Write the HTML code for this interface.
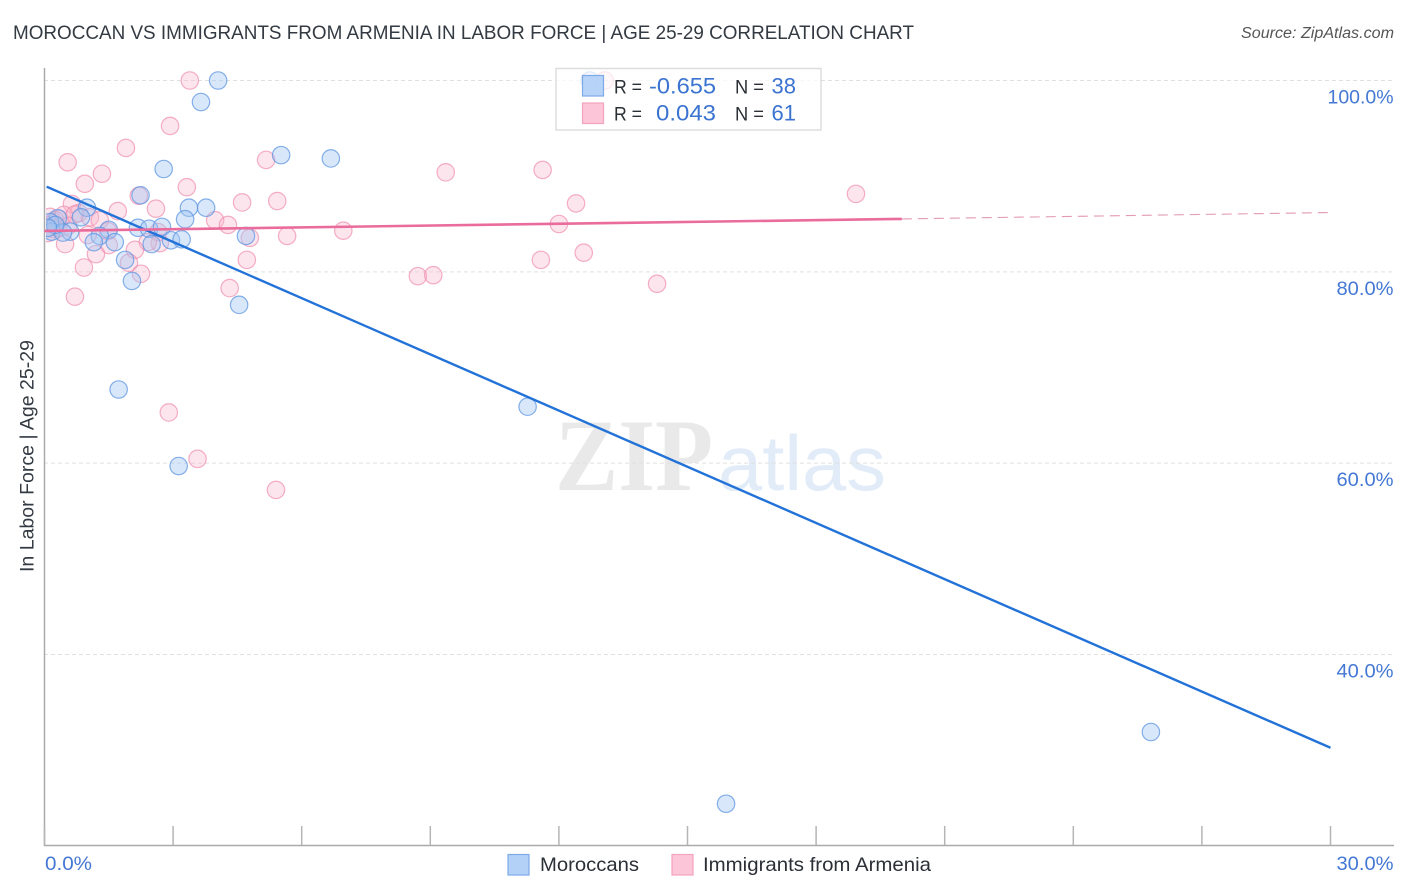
<!DOCTYPE html>
<html lang="en">
<head>
<meta charset="utf-8">
<title>Moroccan vs Immigrants from Armenia in Labor Force | Age 25-29 Correlation Chart</title>
<style>
html,body{margin:0;padding:0;background:#fff;width:1406px;height:892px;overflow:hidden}
svg{display:block;font-family:"Liberation Sans",sans-serif}
</style>
</head>
<body>
<svg id="chart" width="1406" height="892" viewBox="0 0 1406 892" xmlns="http://www.w3.org/2000/svg">
  <defs>
    <clipPath id="plot-clip"><rect x="46" y="0" width="1360" height="892"/></clipPath>
  </defs>
  <rect x="0" y="0" width="1406" height="892" fill="#ffffff"/>
  <text x="13" y="39" font-size="19.5" fill="#333a42" textLength="901" lengthAdjust="spacingAndGlyphs">MOROCCAN VS IMMIGRANTS FROM ARMENIA IN LABOR FORCE | AGE 25-29 CORRELATION CHART</text>
  <text x="1394" y="38" font-size="15.5" font-style="italic" fill="#555" text-anchor="end" textLength="153" lengthAdjust="spacingAndGlyphs">Source: ZipAtlas.com</text>

  <g>
    <text x="555" y="490" font-family="'Liberation Serif',serif" font-size="103" font-weight="bold" fill="#e9e9e9" textLength="158" lengthAdjust="spacingAndGlyphs">ZIP</text>
    <text x="718" y="490" font-family="'Liberation Sans',sans-serif" font-size="78" fill="#e2ecf9" textLength="168" lengthAdjust="spacingAndGlyphs">atlas</text>
  </g>

  <g id="grid"></g>
  <g id="axes"></g>
  <g id="pink-points" clip-path="url(#plot-clip)"></g>
  <g id="blue-points" clip-path="url(#plot-clip)"></g>
  <g id="trends"></g>

  <text transform="translate(33.5,456) rotate(-90)" font-size="19" fill="#333a42" text-anchor="middle" textLength="232" lengthAdjust="spacingAndGlyphs">In Labor Force | Age 25-29</text>

  <g>
    <rect x="556" y="68.5" width="265" height="61.5" fill="#ffffff" fill-opacity="0.72" stroke="#dddddd" stroke-width="1.5"/>
    <rect x="582.5" y="75.5" width="21" height="20.5" fill="#b3d1f7" fill-opacity="0.95" stroke="#7dabe8" stroke-width="1.2"/>
    <rect x="582.5" y="103" width="21" height="20.5" fill="#fcc5d8" stroke="#f3a3bf" stroke-width="1.2"/>
    <text x="614" y="93.5" font-size="19.5" fill="#2b2f36" textLength="28" lengthAdjust="spacingAndGlyphs">R =</text>
    <text x="716" y="93.5" font-size="22" fill="#3b73d1" text-anchor="end" textLength="67" lengthAdjust="spacingAndGlyphs">-0.655</text>
    <text x="735" y="93.5" font-size="19.5" fill="#2b2f36" textLength="29" lengthAdjust="spacingAndGlyphs">N =</text>
    <text x="796" y="93.5" font-size="22" fill="#3b73d1" text-anchor="end">38</text>
    <text x="614" y="120.5" font-size="19.5" fill="#2b2f36" textLength="28" lengthAdjust="spacingAndGlyphs">R =</text>
    <text x="716" y="120.5" font-size="22" fill="#3b73d1" text-anchor="end" textLength="60" lengthAdjust="spacingAndGlyphs">0.043</text>
    <text x="735" y="120.5" font-size="19.5" fill="#2b2f36" textLength="29" lengthAdjust="spacingAndGlyphs">N =</text>
    <text x="796" y="120.5" font-size="22" fill="#3b73d1" text-anchor="end">61</text>
  </g>

  <g>
    <rect x="508" y="854.5" width="21" height="20.5" fill="#b3d1f7" stroke="#7dabe8" stroke-width="1.2"/>
    <text x="540" y="871" font-size="19.5" fill="#2b2f36" textLength="99" lengthAdjust="spacingAndGlyphs">Moroccans</text>
    <rect x="672" y="854.5" width="21" height="20.5" fill="#fcc5d8" stroke="#f3a3bf" stroke-width="1.2"/>
    <text x="703" y="871" font-size="19.5" fill="#2b2f36" textLength="228" lengthAdjust="spacingAndGlyphs">Immigrants from Armenia</text>
  </g>
</svg>
<script>
const moroccanX = [4.05,3.65,5.52,6.68,2.78,2.24,3.37,3.77,0.99,3.28,0.85,0.31,0.13,2.18,2.44,2.74,1.5,0.6,0.17,0.43,1.29,4.7,1.15,1.64,2.5,2.95,3.2,1.88,2.04,4.54,1.73,11.27,3.13,25.81,15.9,12.72,0.25,0.08];
const moroccanY = [100,97.75,92.2,91.85,90.75,88,86.7,86.7,86.7,85.5,85.7,85.6,85.2,84.6,84.5,84.7,84.4,84.2,84.2,84.1,83.75,83.75,83.1,83.1,82.9,83.3,83.4,81.25,79.05,76.55,67.7,65.9,59.7,31.9,24.4,100,84.9,84.6];
const armeniaX = [3.39,13.07,2.93,1.9,0.54,5.17,1.34,0.94,3.32,9.36,11.62,18.93,2.2,4.61,5.43,12.4,0.64,2.6,1.71,0.8,1.06,1.29,3.98,4.28,12,6.97,5.66,4.79,1.48,1.01,2.65,2.69,2.41,0.48,1.5,2.11,1.2,4.72,1.97,11.58,12.58,0.92,2.25,8.71,9.07,4.32,14.29,0.71,2.9,3.57,5.4,0.13,0.25,0.36,0.03,0.17,0.08,0.31,0.45,0.71,0.55];
const armeniaY = [100,100,95.25,92.95,91.45,91.7,90.25,89.2,88.85,90.4,90.65,88.15,87.95,87.25,87.4,87.15,87.1,86.6,86.35,86.15,85.7,85.4,85.4,84.9,85,84.3,83.75,83.55,84.25,83.85,84.15,83,83.1,82.9,82.8,82.3,81.85,81.25,80.95,81.25,82,80.45,79.8,79.55,79.65,78.3,78.75,77.4,65.3,60.45,57.2,85.75,85.4,85.5,84.9,84.5,84.05,84.6,85.95,86,84.8];
const moroccanTrendX = [0.05, 30];
const moroccanTrendY = [88.9, 30.25];
const armeniaTrendX = [0, 20];
const armeniaTrendY = [84.27, 85.53];
const armeniaDashX = [20, 30];
const armeniaDashY = [85.53, 86.2];
const xTickValues = [0,3,6,9,12,15,18,21,24,27,30];
const xEndTicks = [0,30];
const xEndLabels = ["0.0%","30.0%"];
const yTickValues = [100,80,60,40];
const yTickLabels = ["100.0%","80.0%","60.0%","40.0%"];

const NS = "http://www.w3.org/2000/svg";
function xScale(v){ return 44.5 + v * (1330.5 - 44.5) / 30; }
function yScale(v){ return 80.5 + (100 - v) * (654.5 - 80.5) / 60; }
function labelWidth(s){ return s.length === 6 ? 66 : (s.length === 5 ? 57 : 47); }
function make(tag, parent, attrs, text){
  const el = document.createElementNS(NS, tag);
  for (const k in attrs) el.setAttribute(k, attrs[k]);
  if (text !== undefined) el.textContent = text;
  parent.appendChild(el);
  return el;
}
const grid = document.getElementById("grid");
const axes = document.getElementById("axes");
const bluePts = document.getElementById("blue-points");
const pinkPts = document.getElementById("pink-points");
const trends = document.getElementById("trends");

yTickValues.forEach(function(v, i){
  const line = make("line", grid, {x1:44, x2:1393, y1:yScale(v), y2:yScale(v), stroke:"#e0e0e0", "stroke-width":1, "stroke-dasharray":"4 3"});
  
  
  const label = make("text", axes, {x:1393.5, y:yScale(v) + 23, "font-size":19.5, fill:"#4478d4", "text-anchor":"end", textLength:labelWidth(yTickLabels[i]), lengthAdjust:"spacingAndGlyphs"}, yTickLabels[i]);
  
  
});

const yAxisLine = make("line", axes, {x1:44.5, x2:44.5, y1:68, y2:846, stroke:"#aaaaaa", "stroke-width":1.5});


const xAxisLine = make("line", axes, {x1:44, x2:1394, y1:845.5, y2:845.5, stroke:"#aaaaaa", "stroke-width":1.5});



xTickValues.forEach(function(v){
  const tick = make("line", axes, {x1:xScale(v), x2:xScale(v), y1:826, y2:845, stroke:"#b5b5b5", "stroke-width":1.5});
  
  
});
xEndTicks.forEach(function(v, i){
  const anchor = i === 0 ? "start" : "end";
  const px = i === 0 ? xScale(v) + 0.5 : 1393.5;
  const label = make("text", axes, {x:px, y:870, "font-size":19.5, fill:"#4478d4", "text-anchor":anchor, textLength:labelWidth(xEndLabels[i]), lengthAdjust:"spacingAndGlyphs"}, xEndLabels[i]);
  
  
});

armeniaX.forEach(function(v, i){
  const c = make("circle", pinkPts, {cx:xScale(v), cy:yScale(armeniaY[i]), r:8.7, fill:"#f9b6cd", "fill-opacity":0.36, stroke:"#ee86a8", "stroke-opacity":0.65, "stroke-width":1.2});
  
  
});
moroccanX.forEach(function(v, i){
  const c = make("circle", bluePts, {cx:xScale(v), cy:yScale(moroccanY[i]), r:8.7, fill:"#a3c5f2", "fill-opacity":0.42, stroke:"#5f97e2", "stroke-opacity":0.75, "stroke-width":1.2});
  
  
});

const blueTrend = make("line", trends, {x1:xScale(moroccanTrendX[0]), y1:yScale(moroccanTrendY[0]), x2:xScale(moroccanTrendX[1]), y2:yScale(moroccanTrendY[1]), stroke:"#2272d8", "stroke-width":2.4});


const pinkTrend = make("line", trends, {x1:xScale(armeniaTrendX[0]), y1:yScale(armeniaTrendY[0]), x2:xScale(armeniaTrendX[1]), y2:yScale(armeniaTrendY[1]), stroke:"#e96c9c", "stroke-width":2.6});


const pinkDash = make("line", trends, {x1:xScale(armeniaDashX[0]), y1:yScale(armeniaDashY[0]), x2:xScale(armeniaDashX[1]), y2:yScale(armeniaDashY[1]), stroke:"#e39ab5", "stroke-width":1.1, "stroke-dasharray":"10 6"});


</script>
</body>
</html>
